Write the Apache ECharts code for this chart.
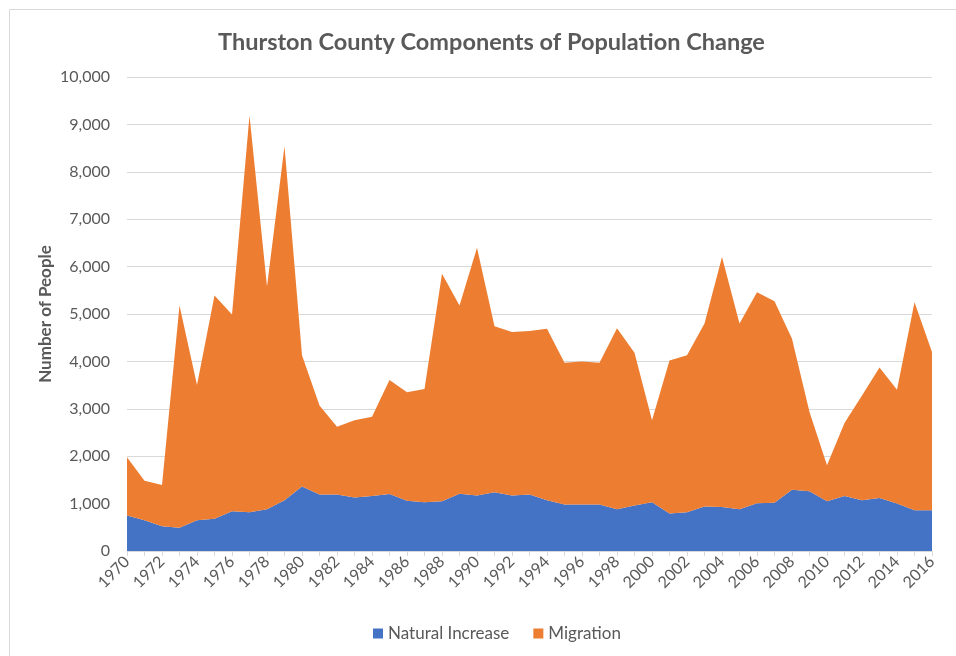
<!DOCTYPE html>
<html><head><meta charset="utf-8">
<script src="https://cdn.jsdelivr.net/npm/echarts@6/dist/echarts.min.js"></script>
<style>html,body{margin:0;padding:0;background:#fff}#c{width:956px;height:656px}</style>
</head><body><div id="c"></div>
<script>
const years = [];
for (let y = 1970; y <= 2016; y++) years.push(String(y));
const naturalIncrease = [750,650,520,490,650,680,840,820,880,1070,1360,1190,1190,1130,1160,1200,1060,1030,1050,1210,1170,1240,1170,1190,1070,980,980,980,880,960,1030,790,820,940,930,880,1010,1020,1290,1260,1050,1160,1070,1120,1000,860,860];
const totalChange = [1980,1480,1390,5180,3500,5390,4990,9190,5580,8540,4130,3070,2620,2760,2830,3610,3350,3420,5850,5180,6400,4740,4620,4640,4690,3970,4000,3970,4700,4180,2760,4020,4130,4800,6200,4800,5460,5270,4480,2930,1810,2700,3280,3870,3400,5250,4200];
const migration = totalChange.map((t, i) => t - naturalIncrease[i]);
const yTicks = [0, 10000, 1000];

const chart = echarts.init(document.getElementById('c'));
const font = 'Lato, "Open Sans", sans-serif';
chart.setOption({
  animation: false,
  textStyle: {fontFamily: font},
  graphic: [{type: 'rect', shape: {x: 9.5, y: 9.5, width: 1000, height: 1000}, style: {fill: 'none', stroke: '#d9d9d9', lineWidth: 1}, silent: true}],
  title: {text: 'Thurston County Components of Population Change', left: 213, top: 25,
    textStyle: {fontFamily: font, fontSize: 23.5, fontWeight: 'bold', color: '#595959'}},
  legend: {bottom: 9, left: 368, itemWidth: 10, itemHeight: 10, itemGap: 24,
    textStyle: {fontFamily: font, fontSize: 17, color: '#595959'},
    data: [{name: 'Natural Increase', icon: 'rect'}, {name: 'Migration', icon: 'rect'}]},
  grid: {left: 127, right: 24, top: 77, bottom: 105, containLabel: false},
  xAxis: {type: 'category', data: years, boundaryGap: false,
    axisLine: {lineStyle: {color: '#d9d9d9'}},
    axisTick: {show: true, interval: 0, length: 5, lineStyle: {color: '#d9d9d9'}},
    axisLabel: {interval: 1, rotate: 45, color: '#595959', fontSize: 16, fontFamily: font, margin: 8},
    splitLine: {show: false}},
  yAxis: {type: 'value', min: yTicks[0], max: yTicks[1], interval: yTicks[2],
    name: 'Number of People', nameLocation: 'middle', nameGap: 73, nameMoveOverlap: false,
    nameTextStyle: {fontFamily: font, fontSize: 17, fontWeight: 'bold', color: '#595959'},
    axisLine: {show: false}, axisTick: {show: false},
    axisLabel: {color: '#595959', fontSize: 16, fontFamily: font, margin: 17,
      formatter: v => v.toLocaleString('en-US')},
    splitLine: {lineStyle: {color: '#d9d9d9', width: 1}}},
  series: [
    {name: 'Natural Increase', type: 'line', stack: 'total', data: naturalIncrease, symbol: 'none',
      lineStyle: {width: 0}, areaStyle: {color: '#4472c4', opacity: 1}, itemStyle: {color: '#4472c4'}},
    {name: 'Migration', type: 'line', stack: 'total', data: migration, symbol: 'none',
      lineStyle: {width: 0}, areaStyle: {color: '#ed7d31', opacity: 1}, itemStyle: {color: '#ed7d31'}}
  ]
});
</script></body></html>
